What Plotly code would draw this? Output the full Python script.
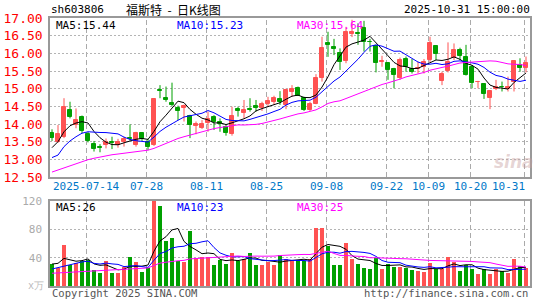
import plotly.graph_objects as go

# ---------------- data ----------------
opens = [13.74, 13.50, 13.64, 14.40, 13.97, 14.20, 13.71, 13.44, 13.35, 13.41,
         13.48, 13.41, 13.48, 13.60, 13.41, 13.74, 13.50, 13.41, 14.95, 14.73,
         14.60, 14.46, 14.46, 14.24, 13.93, 13.90, 14.02, 14.21, 14.05, 13.92,
         13.71, 14.43, 14.30, 14.43, 14.52, 14.44, 14.58, 14.63, 14.71, 14.55,
         14.90, 15.03, 14.75, 14.40, 14.58, 15.29, 16.29, 16.19, 16.00, 15.78,
         16.54, 16.58, 16.71, 16.32, 16.22, 15.75, 15.72, 15.56, 15.29, 15.84,
         15.56, 15.55, 15.62, 15.81, 16.22, 15.22, 15.50, 15.86, 16.09, 15.91,
         15.62, 15.18, 15.12, 14.75, 14.99, 15.06, 14.99, 15.18, 15.67, 15.58]
highs = [13.85, 13.97, 14.73, 14.63, 14.44, 14.24, 13.78, 13.52, 13.43, 13.59,
         13.64, 13.58, 13.64, 13.99, 13.78, 13.76, 13.58, 14.73, 15.10, 15.06,
         15.17, 14.52, 14.55, 14.26, 14.07, 14.11, 14.35, 14.25, 14.16, 13.99,
         14.49, 14.49, 14.68, 14.73, 14.68, 14.63, 14.77, 14.80, 14.93, 15.00,
         15.10, 15.06, 14.77, 14.63, 15.41, 16.47, 16.61, 16.41, 16.14, 16.75,
         16.95, 16.85, 16.92, 16.41, 16.22, 15.93, 15.75, 15.59, 15.88, 15.91,
         15.84, 15.76, 15.84, 16.47, 16.22, 15.48, 16.31, 16.28, 16.16, 16.24,
         15.67, 15.22, 15.12, 14.96, 15.25, 15.20, 15.34, 15.81, 15.86, 15.91]
lows = [13.52, 13.47, 13.60, 14.16, 13.88, 13.74, 13.48, 13.22, 13.20, 13.31,
        13.29, 13.33, 13.36, 13.53, 13.36, 13.52, 13.26, 13.38, 14.73, 14.63,
        14.50, 14.11, 14.07, 13.60, 13.71, 13.86, 13.78, 13.83, 13.78, 13.67,
        13.67, 14.21, 14.16, 14.35, 14.35, 14.37, 14.49, 14.54, 14.54, 14.42,
        14.77, 14.80, 14.37, 14.37, 14.56, 15.20, 15.90, 15.95, 15.53, 15.72,
        16.46, 16.24, 16.05, 16.05, 15.46, 15.62, 15.25, 15.01, 15.25, 15.48,
        15.43, 15.43, 15.43, 15.75, 15.81, 15.10, 15.46, 15.81, 15.81, 15.37,
        15.01, 15.01, 14.71, 14.42, 14.96, 14.92, 14.92, 14.92, 15.48, 15.46]
closes = [13.61, 13.72, 14.49, 14.21, 14.11, 13.80, 13.53, 13.29, 13.33, 13.48,
          13.46, 13.50, 13.57, 13.57, 13.74, 13.58, 13.36, 14.71, 14.93, 14.67,
          14.55, 14.37, 14.50, 13.97, 13.99, 13.99, 14.13, 14.07, 13.99, 13.74,
          14.24, 14.37, 14.40, 14.39, 14.46, 14.56, 14.65, 14.73, 14.61, 14.95,
          15.00, 14.80, 14.40, 14.58, 15.31, 16.14, 16.25, 16.12, 15.76, 16.61,
          16.60, 16.56, 16.33, 16.31, 15.72, 15.77, 15.53, 15.39, 15.81, 15.62,
          15.48, 15.58, 15.75, 16.28, 15.97, 15.41, 15.75, 16.09, 15.93, 15.39,
          15.15, 15.20, 14.84, 14.93, 15.06, 15.05, 15.06, 15.78, 15.59, 15.74]
volumes = [31, 25, 58, 29, 32, 35, 37, 23, 19, 35,
           19, 18, 27, 41, 34, 20, 26, 125, 113, 64,
           68, 36, 34, 77, 40, 41, 41, 29, 37, 31,
           46, 36, 38, 47, 30, 30, 34, 30, 44, 38,
           35, 37, 35, 38, 82, 82, 56, 30, 30, 61,
           38, 31, 26, 24, 40, 24, 31, 27, 27, 26,
           23, 21, 20, 33, 24, 24, 41, 34, 21, 30,
           24, 17, 24, 17, 24, 21, 19, 38, 28, 25]

# moving-average values before a full window is available
ma5_head = [13.33, 13.50, 13.78, 13.95]
ma10_head = [13.05, 13.12, 13.36, 13.52, 13.64, 13.74, 13.78, 13.78, 13.76]
ma30_head = [12.64, 12.70, 12.76, 12.82, 12.88, 12.94, 12.99, 13.03, 13.07, 13.10,
             13.13, 13.15, 13.17, 13.19, 13.21, 13.23, 13.26, 13.31, 13.38, 13.46,
             13.54, 13.59, 13.64, 13.69, 13.73, 13.78, 13.83, 13.87, 13.90]
vma5_head = [31, 32, 39, 37]
vma10_head = [24, 26, 29, 30, 32, 34, 35, 32, 31]
vma30_head = [18, 18.5, 19, 19.5, 20, 20.5, 21, 21.5, 22, 22.5,
              23, 23.3, 23.6, 24, 24.3, 24.6, 25.5, 29, 32.3, 33.6,
              35, 35.6, 36.2, 38.3, 38.8, 39.4, 40, 40.4, 40.9]

tick_idx = [6, 16, 26, 36, 46, 56, 63, 70, 79]
tick_labels = ["2025-07-14", "07-28", "08-11", "08-25", "09-08",
               "09-22", "10-09", "10-20", "10-31"]
price_ticks = [12.5, 13.0, 13.5, 14.0, 14.5, 15.0, 15.5, 16.0, 16.5, 17.0]
vol_ticks = [40, 80, 120]

code_text = "sh603806"
title_text = "福斯特\u00a0\u00a0-\u00a0\u00a0日K线图"
time_text = "2025-10-31 15:00:00"
ma_price_labels = ["MA5:15.44", "MA10:15.23", "MA30:15.64"]
ma_vol_labels = ["MA5:26", "MA10:23", "MA30:25"]

# ---------------- helpers ----------------
def moving_avg(vals, n, head):
    out = []
    for i in range(len(vals)):
        if i < n - 1:
            out.append(head[i])
        else:
            out.append(sum(vals[i - n + 1:i + 1]) / n)
    return out

RED = "#FF5252"
GREEN = "#00A000"
MONO = "DejaVu Sans Mono"

n = len(closes)
idx = list(range(n))
up = [c >= o for o, c in zip(opens, closes)]
colors = [RED if u else GREEN for u in up]
bases = [min(o, c) for o, c in zip(opens, closes)]
heights = [max(abs(c - o), 0.01) for o, c in zip(opens, closes)]

fig = go.Figure()

# wicks
for flag, col in ((True, RED), (False, GREEN)):
    wx, wy = [], []
    for i in idx:
        if up[i] == flag:
            wx += [i, i, None]
            wy += [lows[i], highs[i], None]
    fig.add_trace(go.Scatter(x=wx, y=wy, mode="lines", line=dict(color=col, width=1),
                             hoverinfo="skip", showlegend=False, xaxis="x", yaxis="y"))

# bodies
fig.add_trace(go.Bar(x=idx, y=heights, base=bases, width=0.68,
                     marker=dict(color=colors, line=dict(color=colors, width=1)),
                     hoverinfo="skip", showlegend=False, xaxis="x", yaxis="y"))

# price moving averages
for vals, col in ((moving_avg(closes, 5, ma5_head), "#000000"),
                  (moving_avg(closes, 10, ma10_head), "#0000FF"),
                  (moving_avg(closes, 30, ma30_head), "#FF00FF")):
    fig.add_trace(go.Scatter(x=idx, y=vals, mode="lines", line=dict(color=col, width=1),
                             hoverinfo="skip", showlegend=False, xaxis="x", yaxis="y"))

# volume bars
fig.add_trace(go.Bar(x=idx, y=volumes, width=0.82, marker=dict(color=colors, line=dict(width=0)),
                     hoverinfo="skip", showlegend=False, xaxis="x2", yaxis="y2"))
for vals, col in ((moving_avg(volumes, 5, vma5_head), "#000000"),
                  (moving_avg(volumes, 10, vma10_head), "#0000FF"),
                  (moving_avg(volumes, 30, vma30_head), "#FF00FF")):
    fig.add_trace(go.Scatter(x=idx, y=vals, mode="lines", line=dict(color=col, width=1),
                             hoverinfo="skip", showlegend=False, xaxis="x2", yaxis="y2"))

# ---------------- layout ----------------
W, H = 545, 300
ML, MR, MT, MB = 50, 15, 18, 14
PW, PH = W - ML - MR, H - MT - MB

def px(x):
    return (x - ML) / PW

def py(y):
    return (H - MB - y) / PH

xr = [-2 / 6, 79 + 4 / 6]
axis_common = dict(showline=True, mirror=True, linecolor="#999999", linewidth=1.5,
                   zeroline=False, fixedrange=True, automargin=False, ticks="")

fig.update_layout(
    width=W, height=H, margin=dict(l=ML, r=MR, t=MT, b=MB, pad=0),
    paper_bgcolor="white", plot_bgcolor="white", showlegend=False, bargap=0,
    xaxis=dict(range=xr, showticklabels=False, showgrid=False, anchor="y", **axis_common),
    xaxis2=dict(range=xr, showticklabels=False, showgrid=False, anchor="y2", matches="x",
                **axis_common),
    yaxis=dict(domain=[py(177), 1], range=[12.5, 17.0], tickvals=price_ticks,
               ticktext=["%.2f" % v for v in price_ticks],
               tickfont=dict(family=MONO, size=13, color="#FF0000"),
               showgrid=True, gridcolor="#b4b4b4", gridwidth=1, griddash="2px,2px",
               ticklabelstandoff=3, **axis_common),
    yaxis2=dict(domain=[0, py(201)], range=[0, 120], tickvals=vol_ticks,
                ticktext=[str(v) for v in vol_ticks],
                tickfont=dict(family=MONO, size=11, color="#aaaaaa"),
                showgrid=True, gridcolor="#b4b4b4", gridwidth=1, griddash="2px,2px",
                ticklabelstandoff=4, **axis_common),
)

shapes = []
for t in tick_idx:
    for yr in ("y domain", "y2 domain"):
        shapes.append(dict(type="line", xref="x", yref=yr, x0=t - 0.25, x1=t - 0.25,
                           y0=0, y1=1, layer="below",
                           line=dict(color="#aaaaaa", width=1, dash="5px,3px")))
fig.update_layout(shapes=shapes)

ann = []
def text(x, y, s, color="#000000", size=10, xanchor="left", family=MONO, **kw):
    ann.append(dict(x=px(x), y=py(y), xref="paper", yref="paper", text=s, showarrow=False,
                    xanchor=xanchor, yanchor="middle",
                    font=dict(family=family, size=size, color=color), **kw))

text(49, 10, code_text, size=11)
text(173, 10, title_text, size=12, xanchor="center",
     family="Noto Sans CJK SC, DejaVu Sans")
text(532, 10, time_text, size=11, xanchor="right")

for lbl, x0, col in zip(ma_price_labels, (54, 175, 295), ("#000000", "#0000FF", "#FF00FF")):
    text(x0, 25, lbl, color=col, size=11)
for lbl, x0, col in zip(ma_vol_labels, (54, 175, 295), ("#000000", "#0000FF", "#FF00FF")):
    text(x0, 207, lbl, color=col, size=11)

for t, lbl in zip(tick_idx, tick_labels):
    xc = 52 + 6 * (t - 0.25)
    if t == tick_idx[-1]:
        text(527, 186, lbl, color="#0078C8", size=11, xanchor="right")
    else:
        text(xc, 186, lbl, color="#0078C8", size=11, xanchor="center")

text(46, 285, "x万", color="#bbbbbb", size=10, xanchor="right")
text(50, 293, "Copyright 2025 SINA.COM", color="#555555", size=10.5)
text(530, 293, "http://finance.sina.com.cn", color="#555555", size=10.5, xanchor="right")
text(514, 162, "<b><i>sina</i></b>", color="rgba(200,160,160,0.45)", size=17,
     xanchor="center", family="DejaVu Sans")

fig.update_layout(annotations=ann)
fig.write_html("out.html")
